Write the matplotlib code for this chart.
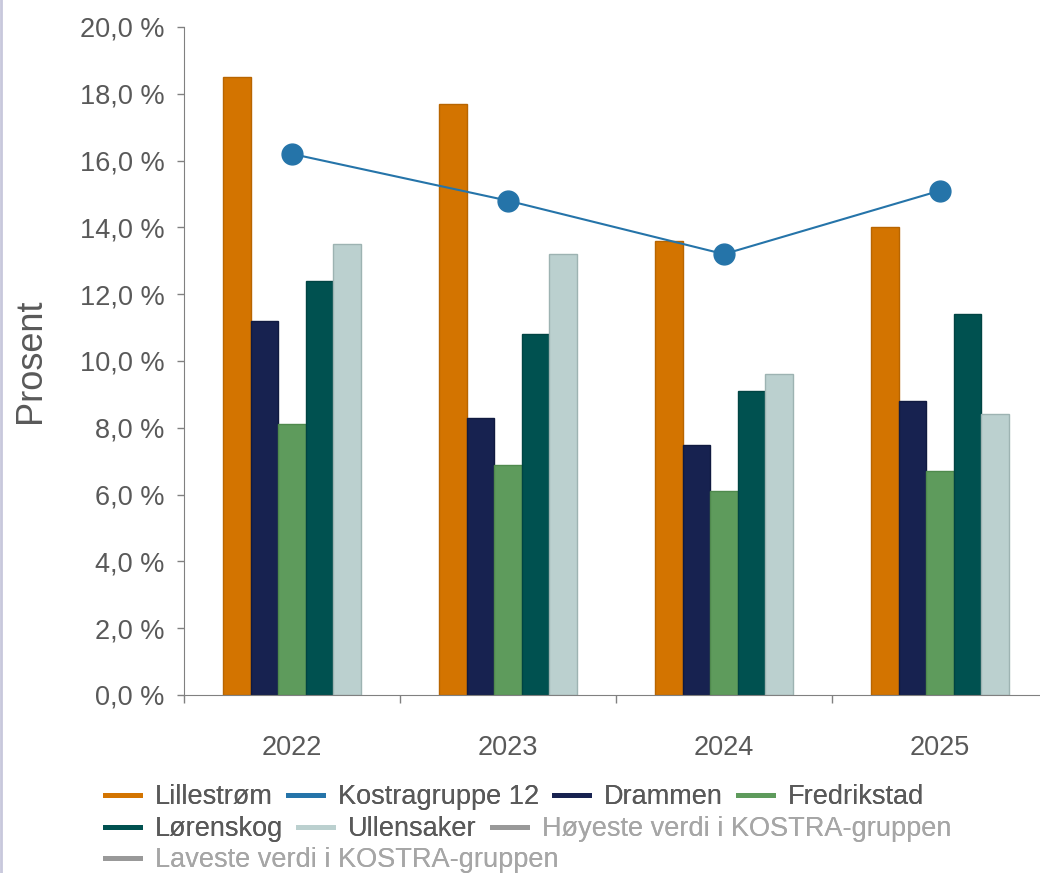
import numpy as np
import matplotlib
matplotlib.use("Agg")
import matplotlib.pyplot as plt
from matplotlib.lines import Line2D
from matplotlib.ticker import FuncFormatter

plt.rcParams['font.family'] = ['Liberation Sans', 'DejaVu Sans']

years = ['2022', '2023', '2024', '2025']
lillestrom = [18.5, 17.7, 13.6, 14.0]
kostra12 = [16.2, 14.8, 13.2, 15.1]
drammen = [11.2, 8.3, 7.5, 8.8]
fredrikstad = [8.1, 6.9, 6.1, 6.7]
lorenskog = [12.4, 10.8, 9.1, 11.4]
ullensaker = [13.5, 13.2, 9.6, 8.4]

bar_series = [
    ('Lillestrøm', lillestrom, '#D37400', '#B86500'),
    ('Drammen', drammen, '#172250', '#101a40'),
    ('Fredrikstad', fredrikstad, '#5E9B5C', '#4f8a4d'),
    ('Lørenskog', lorenskog, '#005150', '#004443'),
    ('Ullensaker', ullensaker, '#BBD0CF', '#9db3b2'),
]
txt = '#595959'
fs = 19.5

fig = plt.figure(figsize=(10.4, 8.73), dpi=100)
ax = fig.add_axes([184 / 1040, 1 - 695 / 873, 864 / 1040, 668 / 873])

x = np.arange(len(years))
w = 0.127
handles = {}
for i, (name, vals, col, ec) in enumerate(bar_series):
    ax.bar(x + (i - 2) * w, vals, w, color=col, edgecolor=ec, linewidth=1, zorder=2)
    handles[name] = Line2D([], [], color=col, lw=3.5)

ax.plot(x, kostra12, color='#2574A9', lw=1.5, marker='o', markersize=15, zorder=3)
handles['Kostragruppe 12'] = Line2D([], [], color='#2574A9', lw=3.5)
handles['Høyeste verdi i KOSTRA-gruppen'] = Line2D([], [], color='#999999', lw=3.5)
handles['Laveste verdi i KOSTRA-gruppen'] = Line2D([], [], color='#999999', lw=3.5)

ax.set_xlim(-0.5, 3.5)
ax.set_ylim(0, 20)
ax.set_yticks(np.arange(0, 21, 2))
ax.yaxis.set_major_formatter(FuncFormatter(lambda v, p: f'{v:.1f} %'.replace('.', ',')))
ax.set_xticks(x)
ax.set_xticklabels(years)
ax.set_xticks(np.arange(-0.5, 3.5, 1), minor=True)
ax.tick_params(axis='x', which='major', length=0, pad=29, labelsize=fs, labelcolor=txt)
ax.tick_params(axis='x', which='minor', length=6, width=1, color='#808080', direction='out')
ax.tick_params(axis='y', length=5, width=1, color='#808080', pad=9, labelsize=fs, labelcolor=txt)

for s in ['top', 'right']:
    ax.spines[s].set_visible(False)
ax.spines['left'].set_color('#808080')
ax.spines['bottom'].set_color('#808080')
ax.set_ylabel('Prosent', fontsize=26, color=txt)
ax.yaxis.set_label_coords(-0.157, 0.5)

rows = [
    ['Lillestrøm', 'Kostragruppe 12', 'Drammen', 'Fredrikstad'],
    ['Lørenskog', 'Ullensaker', 'Høyeste verdi i KOSTRA-gruppen'],
    ['Laveste verdi i KOSTRA-gruppen'],
]
ys = [797, 829, 860]
for r, yy in zip(rows, ys):
    leg = fig.legend([handles[n] for n in r], r, loc='center left',
                     bbox_to_anchor=(105 / 1040, 1 - yy / 873), ncol=len(r),
                     frameon=False, fontsize=fs, handlelength=1.3,
                     handletextpad=0.55, columnspacing=0.55, borderaxespad=0,
                     borderpad=0)
    for t in leg.get_texts():
        t.set_color('#A6A6A6' if 'KOSTRA' in t.get_text() else txt)
    fig.add_artist(leg)

fig.add_artist(Line2D([0.001, 0.001], [0, 1], color='#C8C8DC', lw=2))

fig.savefig('out.png', dpi=100)
